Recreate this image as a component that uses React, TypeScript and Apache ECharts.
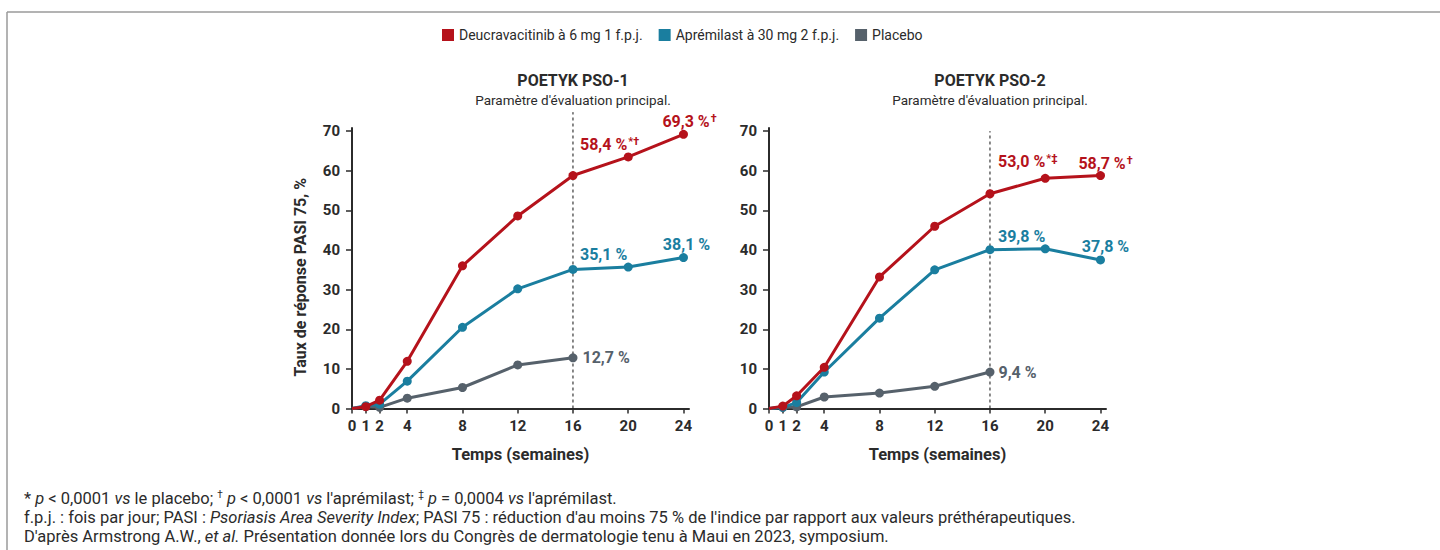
import React, { useEffect, useRef } from 'react';
import * as echarts from 'echarts';

// ---------- data ----------
const weeks = [0, 1, 2, 4, 8, 12, 16, 20, 24];
const placeboWeeks = [0, 1, 2, 4, 8, 12, 16];
const xTicks = [0, 1, 2, 4, 8, 12, 16, 20, 24];
const yTicks = [0, 10, 20, 30, 40, 50, 60, 70];
const seriesNames = ['Deucravacitinib à 6 mg 1 f.p.j.', 'Aprémilast à 30 mg 2 f.p.j.', 'Placebo'];

const pso1Deucra = [0, 0.45, 2.1, 11.9, 36.0, 48.6, 58.8, 63.5, 69.2];
const pso1Apremilast = [0, 0.7, 1.1, 6.9, 20.5, 30.2, 35.1, 35.7, 38.1];
const pso1Placebo = [0, 0.5, 0.3, 2.6, 5.3, 11.0, 12.8];

const pso2Deucra = [0, 0.6, 3.2, 10.4, 33.2, 46.0, 54.2, 58.1, 58.8];
const pso2Apremilast = [0, 0.3, 1.5, 9.2, 22.8, 35.0, 40.1, 40.3, 37.5];
const pso2Placebo = [0, 0.3, 0.4, 2.9, 3.9, 5.6, 9.2];

const titles = ['POETYK PSO-1', 'POETYK PSO-2'];
const subtitle = "Paramètre d'évaluation principal.";
const xName = 'Temps (semaines)';
const yName = 'Taux de réponse PASI 75, %';

// label texts: [main, superscript]
const pso1Labels = {
  deucra16: ['58,4 %', '*†'],
  deucra24: ['69,3 %', '†'],
  apr16: ['35,1 %', ''],
  apr24: ['38,1 %', ''],
  pla16: ['12,7 %', ''],
};
const pso2Labels = {
  deucra16: ['53,0 %', '*‡'],
  deucra24: ['58,7 %', '†'],
  apr16: ['39,8 %', ''],
  apr24: ['37,8 %', ''],
  pla16: ['9,4 %', ''],
};

const footnote1 = "* {i|p} < 0,0001 {i|vs} le placebo; {s|†} {i|p} < 0,0001 {i|vs} l'aprémilast; {s|‡} {i|p} = 0,0004 {i|vs} l'aprémilast.";
const footnote2 = "f.p.j. : fois par jour; PASI : {i|Psoriasis Area Severity Index}; PASI 75 : réduction d'au moins 75 % de l'indice par rapport aux valeurs préthérapeutiques.";
const footnote3 = "D'après Armstrong A.W., {i|et al.} Présentation donnée lors du Congrès de dermatologie tenu à Maui en 2023, symposium.";

// ---------- styles ----------
const COLORS = ['#b5121b', '#1a7e9f', '#56616b'];
const TEXT = '#2b2b2b';
const FONT = 'Roboto, "Noto Sans", sans-serif';
const FOOT_SIZE = 16.5;

function makeLabel(txt: string[], color: string, extra: any) {
  return {
    show: true,
    formatter: `{a|${txt[0]}}` + (txt[1] ? `{s|${txt[1]}}` : ''),
    rich: {
      a: { fontSize: 16, fontWeight: 'bold', color, fontFamily: FONT },
      s: { fontSize: 11, fontWeight: 'bold', color, fontFamily: FONT, verticalAlign: 'top', padding: [0, 0, 6, 1] },
    },
    ...extra,
  };
}

function buildData(xs: number[], ys: number[], labels: Record<number, any>) {
  return ys.map((v, i) => {
    const item: any = { value: [xs[i], v] };
    if (xs[i] === 0) item.symbol = 'none';
    if (labels[xs[i]]) item.label = labels[xs[i]];
    return item;
  });
}

function chartSeries(idx: number, d: number[], a: number[], p: number[], L: any, place: any) {
  const common = (k: number) => ({
    type: 'line',
    name: seriesNames[k],
    xAxisIndex: idx,
    yAxisIndex: idx,
    symbol: 'circle',
    symbolSize: 9,
    lineStyle: { width: 3, color: COLORS[k] },
    itemStyle: { color: COLORS[k] },
    label: { show: false },
    emphasis: { disabled: true },
    z: 2 + (2 - k),
  });
  return [
    {
      ...common(2),
      data: buildData(placeboWeeks, p, {
        16: makeLabel(L.pla16, COLORS[2], place.pla16),
      }),
    },
    {
      ...common(1),
      data: buildData(weeks, a, {
        16: makeLabel(L.apr16, COLORS[1], place.apr16),
        24: makeLabel(L.apr24, COLORS[1], place.apr24),
      }),
    },
    {
      ...common(0),
      data: buildData(weeks, d, {
        16: makeLabel(L.deucra16, COLORS[0], place.deucra16),
        24: makeLabel(L.deucra24, COLORS[0], place.deucra24),
      }),
    },
  ];
}

const place1 = {
  deucra16: { position: 'top', align: 'left', offset: [7, -13] },
  deucra24: { position: 'top', offset: [6, 5] },
  apr16: { position: 'top', align: 'left', offset: [7, 3] },
  apr24: { position: 'top', offset: [3, 4] },
  pla16: { position: 'right', distance: 5 },
};
const place2 = {
  deucra16: { position: 'top', align: 'left', offset: [8, -14] },
  deucra24: { position: 'top', offset: [5, 6] },
  apr16: { position: 'top', align: 'left', offset: [8, 4] },
  apr24: { position: 'top', offset: [5, 4] },
  pla16: { position: 'right', distance: 4 },
};

const GRID_LEFT = [352, 769];
const GRID_TOP = 128;
const GRID_H = 280.5;
const GRID_W = 337;

function xAxis(i: number) {
  return {
    type: 'value',
    gridIndex: i,
    min: 0,
    max: 24.4,
    name: xName,
    nameLocation: 'middle',
    nameGap: 37,
    nameTextStyle: { fontSize: 16.5, fontWeight: 'bold', color: TEXT, fontFamily: FONT },
    axisLine: { show: true, lineStyle: { color: TEXT, width: 2 } },
    axisTick: { show: true, length: 5, customValues: xTicks, lineStyle: { color: TEXT, width: 1.5 } },
    axisLabel: { customValues: xTicks, margin: 10, fontSize: 15, fontWeight: 'bold', color: TEXT, fontFamily: FONT },
    splitLine: { show: false },
  };
}

function yAxis(i: number) {
  return {
    type: 'value',
    gridIndex: i,
    min: 0,
    max: 70.8,
    name: i === 0 ? yName : '',
    nameLocation: 'middle',
    nameGap: 44,
    nameTextStyle: { fontSize: 16, fontWeight: 'bold', color: TEXT, fontFamily: FONT, padding: [0, 18, 0, 0] },
    axisLine: { show: true, lineStyle: { color: TEXT, width: 2 } },
    axisTick: { show: true, length: 6, customValues: yTicks, lineStyle: { color: TEXT, width: 1.5 } },
    axisLabel: { customValues: yTicks, margin: 12, fontSize: 15, fontWeight: 'bold', color: TEXT, fontFamily: FONT },
    splitLine: { show: false },
  };
}

const footRich = {
  i: { fontStyle: 'italic', fontSize: FOOT_SIZE, fontFamily: FONT, fill: TEXT },
  s: { fontSize: 10, fontFamily: FONT, fill: TEXT, verticalAlign: 'top' },
};

function staticGraphics(): any[] {
  const g: any[] = [
    { type: 'line', shape: { x1: 7, y1: 12, x2: 1440, y2: 12 }, style: { stroke: '#b3b3b3', lineWidth: 2 } },
    { type: 'line', shape: { x1: 7, y1: 12, x2: 7, y2: 550 }, style: { stroke: '#9a9a9a', lineWidth: 1.5 } },
  ];
  const fl = [footnote1, footnote2, footnote3];
  fl.forEach((t, k) => {
    g.push({
      type: 'text',
      x: 24,
      y: 498 + k * 19,
      style: {
        text: t,
        fontSize: FOOT_SIZE,
        fontFamily: FONT,
        fill: TEXT,
        verticalAlign: 'middle',
        rich: footRich,
      },
    });
  });
  return g;
}

export default function App() {
  const ref = useRef<HTMLDivElement>(null);
  useEffect(() => {
    if (!ref.current) return;
    const chart = echarts.init(ref.current, null, { renderer: 'svg' });
    const option: any = {
      animation: false,
      backgroundColor: '#ffffff',
      textStyle: { fontFamily: FONT },
      legend: {
        data: seriesNames,
        left: 437,
        top: 23,
        icon: 'rect',
        itemWidth: 12,
        itemHeight: 12,
        itemGap: 16,
        textStyle: { fontSize: 14, color: TEXT, fontFamily: FONT },
        selectedMode: false,
      },
      grid: [
        { left: GRID_LEFT[0], top: GRID_TOP, width: GRID_W, height: GRID_H },
        { left: GRID_LEFT[1], top: GRID_TOP, width: GRID_W, height: GRID_H },
      ],
      xAxis: [xAxis(0), xAxis(1)],
      yAxis: [yAxis(0), yAxis(1)],
      series: [
        ...chartSeries(0, pso1Deucra, pso1Apremilast, pso1Placebo, pso1Labels, place1),
        ...chartSeries(1, pso2Deucra, pso2Apremilast, pso2Placebo, pso2Labels, place2),
      ],
      graphic: staticGraphics(),
    };
    chart.setOption(option);

    // titles & dashed week-16 lines, positioned through the axes
    const extra: any[] = [];
    const dashTop = [74.8, 70];
    [0, 1].forEach((gi) => {
      const bottom = chart.convertToPixel({ gridIndex: gi }, [16, 0]) as number[];
      const top = chart.convertToPixel({ gridIndex: gi }, [16, dashTop[gi]]) as number[];
      extra.push({
        type: 'line',
        z: 1,
        shape: { x1: bottom[0], y1: bottom[1], x2: top[0], y2: top[1] },
        style: { stroke: '#111', lineWidth: 1, lineDash: [3, 3] },
      });
      extra.push({
        type: 'text',
        x: bottom[0],
        y: 80,
        style: { text: titles[gi], fontSize: 16, fontWeight: 'bold', fill: TEXT, fontFamily: FONT, align: 'center', verticalAlign: 'middle' },
      });
      extra.push({
        type: 'text',
        x: bottom[0],
        y: 100,
        style: { text: subtitle, fontSize: 13.5, fill: TEXT, fontFamily: FONT, align: 'center', verticalAlign: 'middle' },
      });
    });
    chart.setOption({ graphic: [...staticGraphics(), ...extra] }, { replaceMerge: ['graphic'] });

    return () => chart.dispose();
  }, []);
  return (
    <div
      ref={ref}
      style={{ position: 'absolute', left: 0, top: 0, width: 1440, height: 550 }}
    />
  );
}
